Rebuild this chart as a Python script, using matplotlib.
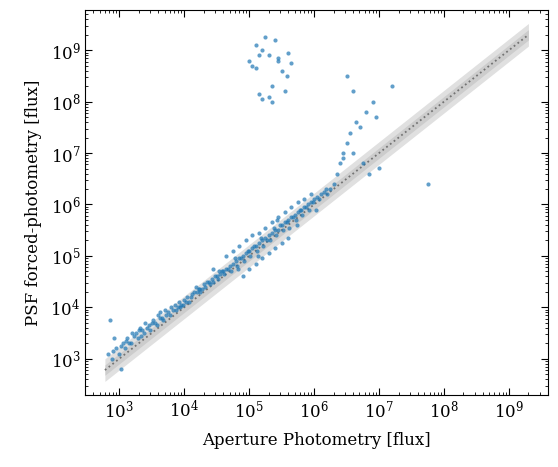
import numpy as np
import matplotlib
matplotlib.use("Agg")
import matplotlib.pyplot as plt
from matplotlib.ticker import NullFormatter

plt.rcParams['font.family'] = ['DejaVu Serif']

# log10 aperture flux / log10 PSF flux
log_ap = [2.82,2.85,2.9,2.95,3.0,3.02,3.05,3.1,3.12,3.15,3.2,3.22,3.25,3.3,3.32,3.35,3.4,3.42,3.45,3.5,
          3.52,3.55,3.6,3.62,3.65,3.7,3.72,3.75,3.8,3.82,3.85,3.9,3.92,3.95,4.0,4.02,4.05,4.1,4.12,4.15,
          4.2,4.22,4.25,4.3,4.32,4.35,4.4,4.42,4.45,4.5,4.52,4.55,4.6,4.62,4.65,4.7,4.72,4.75,4.8,4.82,
          4.85,4.9,4.92,4.95,5.0,5.02,5.05,5.1,5.12,5.15,5.2,5.22,5.25,5.3,5.32,5.35,5.4,5.42,5.45,5.5,
          5.52,5.55,5.6,5.62,5.65,5.7,5.72,5.75,5.8,5.82,5.85,5.9,5.92,5.95,6.0,6.05,6.1,6.15,6.2,6.25,
          2.88,3.08,3.28,3.48,3.68,3.88,4.08,4.28,4.48,4.68,4.88,5.08,5.28,5.48,5.68,5.88,6.08,
          2.92,3.18,3.38,3.58,3.78,3.98,4.18,4.38,4.58,4.78,4.98,5.18,5.38,5.58,5.78,5.98,6.18,
          3.03,3.33,3.63,3.93,4.23,4.53,4.83,5.13,5.43,5.73,6.03,4.9,5.0,5.1,5.2,5.3,5.4,5.5,5.6,
          4.75,4.85,4.95,5.05,5.15,5.25,5.35,5.45,5.55,5.65,5.75,4.65,4.45,5.85,5.95,
          6.3,6.35,6.4,6.45,6.5,6.55,6.6,6.7,6.75,6.8,6.9,7.0,7.2,6.5,6.6,6.65,6.45,6.85,6.95,7.75,
          5.0,5.05,5.1,5.15,5.2,5.25,5.3,5.35,5.4,5.45,5.5,5.55,5.6,5.65,5.2,5.35,5.1,5.45,5.58,5.3,5.15]
log_psf = [3.1,3.75,3.15,3.2,3.1,3.25,3.3,3.35,3.4,3.3,3.5,3.45,3.5,3.55,3.6,3.55,3.7,3.6,3.65,3.7,
           3.75,3.7,3.85,3.8,3.8,3.95,3.85,3.9,4.0,3.95,4.05,4.0,4.1,4.05,4.15,4.1,4.2,4.2,4.25,4.3,
           4.3,4.35,4.3,4.45,4.4,4.5,4.45,4.55,4.5,4.6,4.55,4.65,4.7,4.65,4.75,4.8,4.7,4.85,4.9,4.8,
           4.95,5.0,4.9,5.05,5.1,5.0,5.15,5.2,5.1,5.25,5.3,5.2,5.35,5.4,5.3,5.45,5.5,5.4,5.5,5.6,
           5.5,5.65,5.7,5.55,5.75,5.8,5.7,5.85,5.9,5.8,5.95,6.0,5.9,6.05,6.1,6.15,6.2,6.25,6.2,6.3,
           3.0,3.2,3.4,3.55,3.75,3.95,4.1,4.35,4.6,4.75,4.95,5.2,5.3,5.6,5.75,5.95,6.1,
           3.4,3.3,3.5,3.65,3.85,4.05,4.4,4.5,4.7,4.95,5.1,5.35,5.55,5.65,5.9,6.05,6.3,
           2.8,3.45,3.9,4.0,4.35,4.7,4.75,5.0,5.7,5.6,5.9,4.6,4.75,4.85,4.95,5.05,5.15,5.25,5.35,
           5.1,5.2,5.3,5.4,5.45,5.55,5.65,5.75,5.85,5.95,6.05,5.0,4.75,6.1,6.2,
           6.4,6.6,6.8,7.0,7.2,7.4,7.0,7.5,6.8,7.8,8.0,6.7,8.3,8.5,8.2,7.6,6.9,6.6,7.7,6.4,
           8.8,8.7,9.1,8.9,9.0,9.25,8.1,8.0,9.2,8.85,8.6,8.2,8.95,8.75,8.05,8.3,8.65,8.8,8.5,8.9,8.15]

ap = 10**np.array(log_ap)
psf = 10**np.array(log_psf)

fig, ax = plt.subplots(figsize=(5.58, 4.67), dpi=100)
fig.subplots_adjust(left=0.153, right=0.982, top=0.978, bottom=0.155)

xl = np.logspace(np.log10(6e2), np.log10(2e9), 50)
ax.fill_between(xl, xl/10**0.22, xl*10**0.22, color='0.88', lw=0, zorder=0)
ax.fill_between(xl, xl/10**0.1, xl*10**0.1, color='0.8', lw=0, zorder=0)
ax.plot(xl, xl, ':', color='0.45', lw=1.3, zorder=1)

ax.scatter(ap, psf, s=9, color='#1f77b4', alpha=0.7, lw=0, zorder=2)
ax.set_xscale('log'); ax.set_yscale('log')
ax.set_xlim(3e2, 4e9); ax.set_ylim(2e2, 6e9)
ax.xaxis.set_minor_formatter(NullFormatter())
ax.yaxis.set_minor_formatter(NullFormatter())
ax.tick_params(which='both', direction='in', top=True, right=True)
ax.tick_params(which='major', length=5, labelsize=12)
ax.tick_params(which='minor', length=2.5)
ax.set_xlabel('Aperture Photometry [flux]', fontsize=12, labelpad=8)
ax.set_ylabel('PSF forced-photometry [flux]', fontsize=12, labelpad=6)
fig.savefig('out.png', dpi=100)
